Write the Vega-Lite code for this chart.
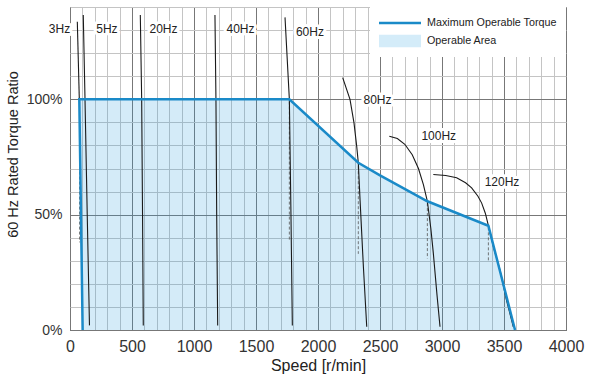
{
  "$schema": "https://vega.github.io/schema/vega-lite/v6.json",
  "width": 496,
  "height": 323,
  "autosize": {"type": "none"},
  "padding": {"left": 70, "top": 7, "right": 34, "bottom": 48},
  "background": "white",
  "config": {
    "view": {"stroke": "#444444", "strokeWidth": 1},
    "font": "Liberation Sans",
    "axis": {
      "domain": false,
      "ticks": false,
      "labelFont": "Liberation Sans",
      "titleFont": "Liberation Sans",
      "titleFontWeight": "normal",
      "labelColor": "#333333",
      "titleColor": "#222222",
      "gridWidth": 1,
      "gridOpacity": 1
    }
  },
  "datasets": {
    "area": [
      {"speed": 75, "pct": 100, "pct2": 100},
      {"speed": 102, "pct": 100, "pct2": 0},
      {"speed": 1769, "pct": 100, "pct2": 0},
      {"speed": 2325, "pct": 72.5, "pct2": 0},
      {"speed": 2500, "pct": 67, "pct2": 0},
      {"speed": 2882, "pct": 55.8, "pct2": 0},
      {"speed": 3374, "pct": 45.2, "pct2": 0},
      {"speed": 3589, "pct": 0, "pct2": 0}
    ],
    "envelope": [
      {"i": 1, "speed": 102, "pct": 0},
      {"i": 2, "speed": 75, "pct": 100},
      {"i": 3, "speed": 1769, "pct": 100},
      {"i": 4, "speed": 2325, "pct": 72.5},
      {"i": 5, "speed": 2500, "pct": 67},
      {"i": 6, "speed": 2882, "pct": 55.8},
      {"i": 7, "speed": 3374, "pct": 45.2},
      {"i": 8, "speed": 3589, "pct": 0}
    ],
    "dashes": [
      {"hz": "3Hz", "speed": 77, "pct": 99, "pct2": 38},
      {"hz": "60Hz", "speed": 1769, "pct": 99, "pct2": 39},
      {"hz": "80Hz", "speed": 2325, "pct": 71, "pct2": 33},
      {"hz": "100Hz", "speed": 2882, "pct": 55, "pct2": 31},
      {"hz": "120Hz", "speed": 3374, "pct": 44.5, "pct2": 29.7}
    ],
    "curves": [
      {"hz": "3Hz", "speed": 59, "pct": 133.6},
      {"hz": "3Hz", "speed": 75, "pct": 100},
      {"hz": "5Hz", "speed": 107, "pct": 136.5},
      {"hz": "5Hz", "speed": 121, "pct": 100},
      {"hz": "5Hz", "speed": 139, "pct": 50},
      {"hz": "5Hz", "speed": 157, "pct": 2},
      {"hz": "20Hz", "speed": 567, "pct": 136.5},
      {"hz": "20Hz", "speed": 578, "pct": 100},
      {"hz": "20Hz", "speed": 585, "pct": 50},
      {"hz": "20Hz", "speed": 591, "pct": 2},
      {"hz": "40Hz", "speed": 1169, "pct": 136.5},
      {"hz": "40Hz", "speed": 1177, "pct": 100},
      {"hz": "40Hz", "speed": 1183, "pct": 50},
      {"hz": "40Hz", "speed": 1191, "pct": 2},
      {"hz": "60Hz", "speed": 1734, "pct": 135.5},
      {"hz": "60Hz", "speed": 1769, "pct": 100},
      {"hz": "60Hz", "speed": 1782, "pct": 50},
      {"hz": "60Hz", "speed": 1793, "pct": 2},
      {"hz": "80Hz", "speed": 2199, "pct": 109.4},
      {"hz": "80Hz", "speed": 2258, "pct": 100},
      {"hz": "80Hz", "speed": 2290, "pct": 89.9},
      {"hz": "80Hz", "speed": 2312, "pct": 79.7},
      {"hz": "80Hz", "speed": 2325, "pct": 72.5},
      {"hz": "80Hz", "speed": 2339, "pct": 56.5},
      {"hz": "80Hz", "speed": 2366, "pct": 27.5},
      {"hz": "80Hz", "speed": 2393, "pct": 1.4},
      {"hz": "100Hz", "speed": 2575, "pct": 84},
      {"hz": "100Hz", "speed": 2640, "pct": 83},
      {"hz": "100Hz", "speed": 2700, "pct": 80.5},
      {"hz": "100Hz", "speed": 2760, "pct": 76},
      {"hz": "100Hz", "speed": 2810, "pct": 70},
      {"hz": "100Hz", "speed": 2850, "pct": 63},
      {"hz": "100Hz", "speed": 2882, "pct": 55.8},
      {"hz": "100Hz", "speed": 2910, "pct": 44},
      {"hz": "100Hz", "speed": 2930, "pct": 33.3},
      {"hz": "100Hz", "speed": 2960, "pct": 15},
      {"hz": "100Hz", "speed": 2984, "pct": 1.4},
      {"hz": "120Hz", "speed": 2930, "pct": 67.4},
      {"hz": "120Hz", "speed": 3030, "pct": 67},
      {"hz": "120Hz", "speed": 3118, "pct": 66},
      {"hz": "120Hz", "speed": 3190, "pct": 63.8},
      {"hz": "120Hz", "speed": 3239, "pct": 61.6},
      {"hz": "120Hz", "speed": 3290, "pct": 58},
      {"hz": "120Hz", "speed": 3320, "pct": 55},
      {"hz": "120Hz", "speed": 3350, "pct": 50.5},
      {"hz": "120Hz", "speed": 3374, "pct": 45.2},
      {"hz": "120Hz", "speed": 3420, "pct": 35},
      {"hz": "120Hz", "speed": 3468, "pct": 26},
      {"hz": "120Hz", "speed": 3520, "pct": 13},
      {"hz": "120Hz", "speed": 3575, "pct": 1.4}
    ],
    "labels": [
      {"label": "3Hz", "speed": -85, "pct": 130.4},
      {"label": "5Hz", "speed": 298, "pct": 130.4},
      {"label": "20Hz", "speed": 754, "pct": 130.4},
      {"label": "40Hz", "speed": 1375, "pct": 130.4},
      {"label": "60Hz", "speed": 1935, "pct": 129},
      {"label": "80Hz", "speed": 2480, "pct": 99.7},
      {"label": "100Hz", "speed": 2974, "pct": 84.3},
      {"label": "120Hz", "speed": 3484, "pct": 64}
    ],
    "legendItems": [
      {"name": "Maximum Operable Torque"},
      {"name": "Operable Area"}
    ]
  },
  "encoding": {
    "x": {
      "field": "speed",
      "type": "quantitative",
      "scale": {"domain": [0, 4000], "nice": false, "zero": false},
      "axis": {
        "title": "Speed [r/min]",
        "values": [0,100,200,300,400,500,600,700,800,900,1000,1100,1200,1300,1400,1500,1600,1700,1800,1900,2000,2100,2200,2300,2400,2500,2600,2700,2800,2900,3000,3100,3200,3300,3400,3500,3600,3700,3800,3900,4000],
        "format": "d",
        "labelExpr": "datum.value % 500 === 0 ? datum.label : ''",
        "labelFontSize": 16,
        "labelPadding": 8,
        "labelFlush": false,
        "labelOverlap": false,
        "gridColor": {"condition": {"test": "datum.value % 500 === 0", "value": "#777777"}, "value": "#c4c4c4"},
        "titleFontSize": 16,
        "titleY": 35,
        "titleBaseline": "middle"
      }
    },
    "y": {
      "field": "pct",
      "type": "quantitative",
      "scale": {"domain": [0, 140], "nice": false, "zero": true},
      "axis": {
        "title": "60 Hz Rated Torque Ratio",
        "values": [0,10,20,30,40,50,60,70,80,90,100,110,120,130,140],
        "labelExpr": "datum.value % 50 === 0 ? datum.value + '%' : ''",
        "labelFontSize": 14,
        "labelPadding": 8,
        "labelFlush": false,
        "labelOverlap": false,
        "gridColor": {"condition": {"test": "datum.value % 50 === 0", "value": "#777777"}, "value": "#c4c4c4"},
        "titleFontSize": 14.5,
        "titleX": -56.5,
        "titleY": 147,
        "titleBaseline": "middle"
      }
    }
  },
  "layer": [
    {
      "data": {"name": "area"},
      "mark": {"type": "area", "opacity": 0.2, "color": "#289ddc"},
      "encoding": {
        "y2": {"field": "pct2"}
      }
    },
    {
      "data": {"name": "dashes"},
      "mark": {"type": "rule", "color": "#555555", "strokeWidth": 0.8, "strokeDash": [3, 2]},
      "encoding": {
        "y2": {"field": "pct2"}
      }
    },
    {
      "data": {"name": "curves"},
      "mark": {"type": "line", "color": "#1a1a1a", "strokeWidth": 1.1},
      "encoding": {
        "detail": {"field": "hz"}
      }
    },
    {
      "data": {"name": "envelope"},
      "mark": {"type": "line", "strokeWidth": 2.5, "color": "#1a8ac8"},
      "encoding": {
        "order": {"field": "i", "type": "quantitative"}
      }
    },
    {
      "data": {"name": "labels"},
      "mark": {"type": "text", "font": "Liberation Sans", "fontSize": 12, "align": "center", "baseline": "middle", "fill": "white", "stroke": "white", "strokeWidth": 6, "strokeJoin": "round"},
      "encoding": {
        "text": {"field": "label"}
      }
    },
    {
      "data": {"name": "labels"},
      "mark": {"type": "text", "font": "Liberation Sans", "fontSize": 12, "align": "center", "baseline": "middle", "color": "#222222"},
      "encoding": {
        "text": {"field": "label"}
      }
    },
    {
      "data": {"name": "legendItems"},
      "mark": {"type": "point", "filled": true, "opacity": 1, "size": 196},
      "encoding": {
        "fill": {
          "field": "name",
          "type": "nominal",
          "scale": {"domain": ["Maximum Operable Torque", "Operable Area"], "range": ["#1a8ac8", "#d4ecf9"]},
          "legend": {
            "title": null,
            "orient": "top-right",
            "offset": 0,
            "padding": 9,
            "fillColor": "white",
            "symbolSize": 196,
            "symbolOpacity": 1,
            "symbolStrokeWidth": 0,
            "labelFont": "Liberation Sans",
            "labelFontSize": 10.75,
            "labelColor": "#222222",
            "labelOffset": 34,
            "labelLimit": 250,
            "rowPadding": 6
          }
        },
        "shape": {
          "field": "name",
          "type": "nominal",
          "scale": {"domain": ["Maximum Operable Torque", "Operable Area"], "range": ["M-1,-0.18H5V0.18H-1Z", "M-1,-0.9H5V0.9H-1Z"]},
          "legend": {
            "title": null,
            "orient": "top-right",
            "offset": 0,
            "padding": 9,
            "fillColor": "white",
            "symbolSize": 196,
            "symbolOpacity": 1,
            "symbolStrokeWidth": 0,
            "labelFont": "Liberation Sans",
            "labelFontSize": 10.75,
            "labelColor": "#222222",
            "labelOffset": 34,
            "labelLimit": 250,
            "rowPadding": 6
          }
        }
      }
    }
  ]
}
